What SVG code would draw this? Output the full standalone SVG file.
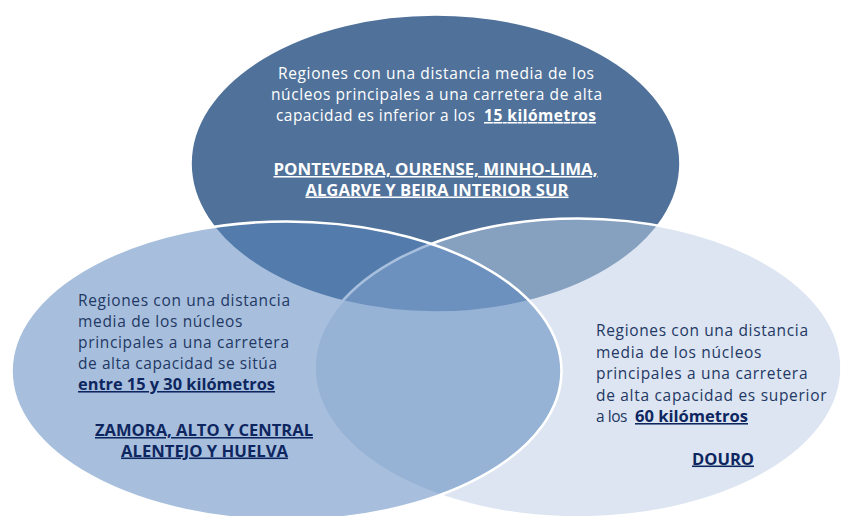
<svg xmlns="http://www.w3.org/2000/svg" width="844" height="516" viewBox="0 0 844 516">
<style>
  .shape { stroke: #ffffff; stroke-width: 2.6; }
  .t { font-family: "Open Sans", "Liberation Sans", Arial, sans-serif; font-size: 15.5px; }
  .w { fill: #ffffff; }
  .n { fill: #1F3864; }
  .nb { fill: #0E2660; font-weight: bold; text-decoration: underline; }
  .wb { fill: #ffffff; font-weight: bold; text-decoration: underline; }
</style>
<rect width="844" height="516" fill="#ffffff"/>
<g id="node-top">
  <ellipse class="shape" cx="435.5" cy="163.5" rx="245" ry="149" fill="#50729A"/>
  <text class="t w" x="278" y="79" textLength="316" lengthAdjust="spacing">Regiones con una distancia media de los</text>
  <text class="t w" x="271" y="100" textLength="331" lengthAdjust="spacing">núcleos principales a una carretera de alta</text>
  <text class="t w" x="276" y="121" textLength="199" lengthAdjust="spacing">capacidad es inferior a los</text>
  <text class="t wb" x="484" y="121" textLength="112" lengthAdjust="spacing">15 kilómetros</text>
  <text class="t wb" x="273.5" y="175" textLength="324" lengthAdjust="spacingAndGlyphs">PONTEVEDRA, OURENSE, MINHO-LIMA,</text>
  <text class="t wb" x="305.5" y="195.5" textLength="263" lengthAdjust="spacingAndGlyphs">ALGARVE Y BEIRA INTERIOR SUR</text>
</g>
<g id="node-right">
  <ellipse class="shape" cx="578" cy="368" rx="263.5" ry="149.5" fill="#BACCE3" fill-opacity="0.51"/>
  <text class="t n" x="596" y="336" textLength="212" lengthAdjust="spacing">Regiones con una distancia</text>
  <text class="t n" x="596" y="357.5" textLength="165.5" lengthAdjust="spacing">media de los núcleos</text>
  <text class="t n" x="596" y="379" textLength="211.5" lengthAdjust="spacing">principales a una carretera</text>
  <text class="t n" x="596" y="400.5" textLength="230.5" lengthAdjust="spacing">de alta capacidad es superior</text>
  <text class="t n" x="596" y="422" textLength="31.5" lengthAdjust="spacing">a los</text>
  <text class="t nb" x="635" y="422" textLength="113" lengthAdjust="spacingAndGlyphs">60 kilómetros</text>
  <text class="t nb" x="692" y="464.5" textLength="62" lengthAdjust="spacingAndGlyphs">DOURO</text>
</g>
<g id="node-left">
  <ellipse class="shape" cx="286.5" cy="371" rx="275" ry="149.5" fill="#5684BE" fill-opacity="0.52"/>
  <text class="t n" x="78" y="306" textLength="212" lengthAdjust="spacing">Regiones con una distancia</text>
  <text class="t n" x="78" y="327" textLength="164.5" lengthAdjust="spacing">media de los núcleos</text>
  <text class="t n" x="78" y="348" textLength="211" lengthAdjust="spacing">principales a una carretera</text>
  <text class="t n" x="78" y="369" textLength="199" lengthAdjust="spacing">de alta capacidad se sitúa</text>
  <text class="t nb" x="78" y="390" textLength="197" lengthAdjust="spacingAndGlyphs">entre 15 y 30 kilómetros</text>
  <text class="t nb" x="95" y="436" textLength="218" lengthAdjust="spacingAndGlyphs">ZAMORA, ALTO Y CENTRAL</text>
  <text class="t nb" x="121" y="456.5" textLength="167" lengthAdjust="spacingAndGlyphs">ALENTEJO Y HUELVA</text>
</g>
<g id="connectors"></g>
</svg>
